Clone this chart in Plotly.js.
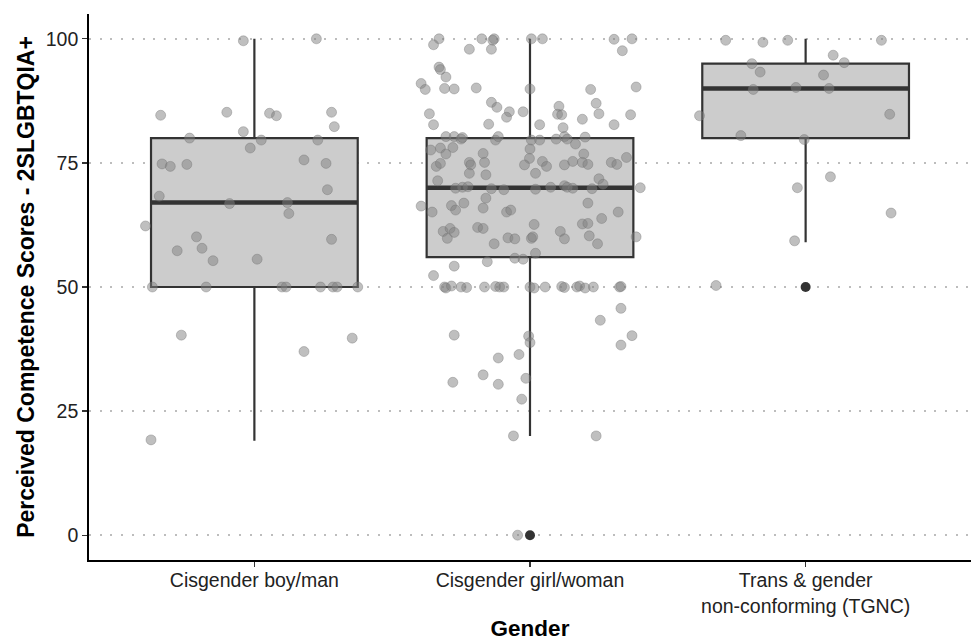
<!DOCTYPE html>
<html>
<head>
<meta charset="utf-8">
<script src="https://cdn.plot.ly/plotly-3.0.1.min.js"></script>
<style>html,body{margin:0;padding:0;background:#fff;}#chart{width:973px;height:641px;}</style>
</head>
<body>
<div id="chart"></div>
<script>
// Categories
const categories = ["Cisgender boy/man", "Cisgender girl/woman", "Trans & gender<br>non-conforming (TGNC)"];

// Box statistics per category
const boxQ1 = [50, 56, 80];
const boxMedian = [67, 70, 90];
const boxQ3 = [80, 80, 95];
const boxLower = [19, 20, 59];
const boxUpper = [100, 100, 100];

// Outliers (category index, score)
const outlierCat = [1, 2];
const outlierScore = [0, 50];

// Jittered individual scores: horizontal jitter offset (in category units) and score
const boyJitter = [-0.04,0.225,-0.34,-0.10,0.055,0.08,0.28,0.29,-0.04,-0.235,0.025,0.23,-0.015,0.18,-0.335,-0.305,-0.245,0.26,0.265,-0.345,-0.09,0.12,0.125,-0.395,-0.21,0.28,-0.28,-0.19,-0.15,0.01,-0.37,-0.175,0.10,0.115,0.24,0.285,0.30,0.375,-0.265,0.18,0.355,-0.375];
const boyScore = [99.6,100,84.6,85.2,85,84.5,85.2,82.3,81.3,80,79.6,79.6,78,75.6,74.8,74.3,74.7,74.9,69.6,68.3,66.8,67,64.8,62.3,60.1,59.6,57.3,57.8,55.3,55.6,50,50,50,50,50,50,50,50,40.3,37,39.7,19.2];

const girlJitter = [-0.33,-0.35,-0.175,-0.13,-0.135,-0.14,-0.22,0.005,0.045,0.305,0.37,0.335,-0.33,-0.325,-0.305,-0.395,-0.38,-0.31,-0.275,-0.195,0.0,0.22,0.385,-0.14,-0.12,0.105,0.24,-0.365,-0.075,-0.085,-0.025,0.10,0.115,0.25,0.365,0.19,-0.35,-0.15,0.035,0.12,0.305,
  -0.305,-0.275,-0.25,-0.245,-0.125,-0.115,0.005,0.035,0.095,0.125,0.135,0.165,0.20,-0.36,-0.325,-0.28,-0.305,-0.17,0.0,-0.002,0.195,0.35,-0.34,-0.325,-0.22,-0.215,-0.165,-0.02,0.045,0.06,0.125,0.155,0.19,0.21,0.295,0.315,-0.22,-0.16,0.02,-0.335,0.25,0.265,-0.27,-0.245,-0.225,-0.14,-0.095,0.02,0.075,0.125,0.135,0.155,0.225,0.40,-0.395,-0.355,-0.285,-0.27,-0.24,-0.16,-0.17,-0.085,-0.07,0.21,0.32,
  -0.315,-0.29,-0.275,-0.30,-0.19,-0.17,-0.13,-0.08,-0.055,0.005,0.01,0.015,0.11,0.125,0.19,0.21,0.26,0.215,0.245,0.385,0.02,-0.055,-0.025,-0.275,-0.155,-0.35,
  -0.31,-0.305,-0.285,-0.25,-0.23,-0.165,-0.125,-0.11,-0.095,0.0,0.015,0.055,0.115,0.125,0.17,0.18,0.20,0.23,0.325,0.33,
  0.33,0.255,-0.275,-0.005,0.0,0.37,0.33,-0.115,-0.04,-0.17,-0.28,-0.115,-0.015,-0.03,-0.06,0.24,-0.045];
const girlScore = [100,98.8,100,100,99.7,97.9,97.9,100,100,99.9,100,97.6,94.3,93.8,92.3,91,89.8,90,89.9,90.1,89.9,89.8,90.3,87.2,86.2,86.4,87,84.9,85.3,84.2,85.3,84.8,84.7,84.9,84.7,83.8,82.7,82.8,82.7,82.1,82.7,
  80.3,80.3,79.8,80.1,79.6,80.3,79.6,79.6,79.8,80.3,79.8,78.8,80.2,77.6,78,78.1,76.8,76.9,77.8,75.9,76.8,76.1,74.3,74.9,75.1,74.6,75.1,74.6,75.3,74.3,74.6,75.3,75.1,74.7,75.1,74.7,72.9,72.6,72.9,71.4,71.8,70.7,69.9,70.1,70.2,69.8,69.6,69.7,70.1,70.4,70.1,69.9,69.8,70,66.3,65.1,66.4,65.5,66.9,67.9,65.9,65.1,65.5,66.9,65.1,
  61.2,61.8,61,59.8,62,61.8,58.7,59.9,59.7,59.8,60.1,62.6,61.2,59.7,62.7,62.8,63.8,60.3,58.7,60.1,56.8,55.8,55.6,54.2,55.1,52.3,
  50,49.8,50.2,50,49.9,50,50.1,50,50,50,49.8,50,50.1,49.9,50,50.2,49.8,50,50,50.1,
  45.7,43.3,40.3,40.1,38.8,40.2,38.3,35.7,36.4,32.3,30.8,30.4,31.6,27.4,20,20,0];

const tgncJitter = [-0.29,-0.155,-0.065,0.275,0.10,0.14,-0.195,-0.165,0.065,-0.19,-0.035,0.085,-0.385,0.305,-0.235,-0.005,0.09,-0.03,0.31,-0.04,-0.325];
const tgncScore = [99.7,99.3,99.7,99.7,96.7,95.2,95,93.3,92.7,89.8,90.2,90,84.5,84.8,80.5,79.7,72.2,70,64.9,59.3,50.3];

// Axis ticks
const yTicks = [0, 25, 50, 75, 100];

const catIdx = categories.map((c, i) => i);
const BOXW = 0.75;

function jitterX(idx, offs) { return offs.map(o => idx + o); }

const pointX = [].concat(jitterX(0, boyJitter), jitterX(1, girlJitter), jitterX(2, tgncJitter));
const pointY = [].concat(boyScore, girlScore, tgncScore);

const medX = [], medY = [];
catIdx.forEach(i => { medX.push(i - BOXW/2, i + BOXW/2, null); medY.push(boxMedian[i], boxMedian[i], null); });

const FONT = 'Liberation Sans, Arial, sans-serif';

const traces = [
  {
    type: 'box', x: catIdx, q1: boxQ1, median: boxMedian, q3: boxQ3,
    lowerfence: boxLower, upperfence: boxUpper,
    width: BOXW, whiskerwidth: 0, boxpoints: false,
    fillcolor: '#cccccc', line: {color: '#333333', width: 2.2},
    hoverinfo: 'skip', showlegend: false
  },
  {
    type: 'scatter', mode: 'lines', x: medX, y: medY,
    line: {color: '#333333', width: 4.5}, hoverinfo: 'skip', showlegend: false
  },
  {
    type: 'scatter', mode: 'markers', x: outlierCat, y: outlierScore,
    marker: {color: '#333333', size: 10}, hoverinfo: 'skip', showlegend: false
  },
  {
    type: 'scatter', mode: 'markers', x: pointX, y: pointY,
    marker: {color: 'rgba(127,127,127,0.5)', size: 10, line: {color: 'rgba(110,110,110,0.35)', width: 1}},
    hoverinfo: 'skip', showlegend: false
  }
];

const layout = {
  width: 973, height: 641,
  margin: {l: 89, r: 2, t: 14, b: 81},
  paper_bgcolor: '#ffffff', plot_bgcolor: '#ffffff',
  font: {family: FONT, color: '#222222', size: 19},
  showlegend: false,
  xaxis: {
    range: [-0.6, 2.6], tickmode: 'array', tickvals: catIdx, ticktext: categories,
    showgrid: false, zeroline: false, automargin: false,
    showline: true, linecolor: '#000000', linewidth: 1.8,
    ticks: 'outside', ticklen: 5, tickwidth: 1.3, tickcolor: '#333333',
    ticklabelstandoff: -3,
    tickfont: {size: 19.5, color: '#222222', family: FONT},
    title: {text: 'Gender', font: {size: 22.5, color: '#000000', family: FONT, weight: 'bold'}, standoff: 5}
  },
  yaxis: {
    range: [-5, 105], tickmode: 'array', tickvals: yTicks,
    showgrid: true, gridcolor: '#bdbdbd', gridwidth: 2, griddash: '2px,8.7px',
    zeroline: false, automargin: false,
    showline: true, linecolor: '#000000', linewidth: 1.8,
    ticks: 'outside', ticklen: 5, tickwidth: 1.3, tickcolor: '#333333',
    tickfont: {size: 19.5, color: '#222222', family: FONT},
    title: {text: 'Perceived Competence Scores - 2SLGBTQIA+', font: {size: 23, color: '#000000', family: FONT, weight: 'bold'}, standoff: 5}
  }
};

Plotly.newPlot('chart', traces, layout, {displayModeBar: false, staticPlot: true});
</script>
</body>
</html>
